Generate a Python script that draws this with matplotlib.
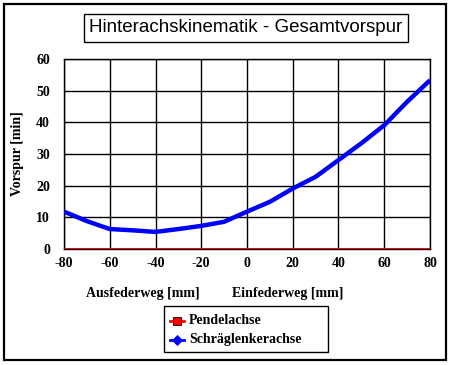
import matplotlib
matplotlib.use("Agg")
import matplotlib.pyplot as plt
from matplotlib.patches import Rectangle

# Data
weg = [-80, -70, -60, -50, -40, -30, -20, -10, 0, 10, 20, 30, 40, 50, 60, 70, 80]
pendelachse = [0, 0, 0, 0, 0, 0, 0, 0, 0, 0, 0, 0, 0, 0, 0, 0, 0]
schraeglenker = [11.8, 8.8, 6.3, 5.9, 5.4, 6.3, 7.3, 8.6, 11.8, 14.9, 19.1, 22.8, 28.1, 33.4, 39.1, 46.5, 53.3]
x_ticks = [-80, -60, -40, -20, 0, 20, 40, 60, 80]
y_ticks = [0, 10, 20, 30, 40, 50, 60]

W, H = 452, 365
fig = plt.figure(figsize=(W / 100, H / 100), dpi=100)
fig.patch.set_facecolor("white")

# plot area in pixels: left 64, right 430, top 59, bottom 249
ax = fig.add_axes([64 / W, 1 - 249 / H, (430 - 64) / W, (249 - 59) / H])

serif = dict(family="Liberation Serif", weight="bold", size=10)

ax.plot(weg, pendelachse, color="#ff0000", lw=2.2, zorder=3, solid_capstyle="butt")
ax.plot(weg, schraeglenker, color="#0000ff", lw=3.2, zorder=4, solid_capstyle="butt")

ax.set_xlim(-80, 80)
ax.set_ylim(0, 60)
ax.set_xticks(x_ticks)
ax.set_yticks(y_ticks)
ax.set_xticklabels([str(v) for v in x_ticks], fontdict=serif)
ax.set_yticklabels([str(v) for v in y_ticks], fontdict=serif)
ax.tick_params(length=0)
ax.tick_params(axis="y", pad=10)
ax.tick_params(axis="x", pad=6)
ax.grid(True, color="black", lw=1)
for s in ax.spines.values():
    s.set_color("black")
    s.set_linewidth(1)

# axis labels
fig.text(18 / W, 1 - 154 / H, "Vorspur [min]", rotation=90, ha="center", va="center", fontdict=serif)
fig.text(143 / W, 1 - 293 / H, "Ausfederweg [mm]", ha="center", va="center", fontdict=serif)
fig.text(288 / W, 1 - 293 / H, "Einfederweg [mm]", ha="center", va="center", fontdict=serif)

# title box
fig.text(246 / W, 1 - 28 / H, "Hinterachskinematik - Gesamtvorspur", ha="center", va="center",
         family="Liberation Sans", size=13.5,
         bbox=dict(boxstyle="square,pad=0.3", fc="white", ec="black", lw=1))

# legend
lx0, ly0, lx1, ly1 = 164, 306, 328, 352
fig.patches.append(Rectangle((lx0 / W, 1 - ly1 / H), (lx1 - lx0) / W, (ly1 - ly0) / H,
                             transform=fig.transFigure, fc="white", ec="black", lw=1))
entries = [("Pendelachse", "#ff0000", "s", 321), ("Schräglenkerachse", "#0000ff", "D", 340)]
for name, col, mk, yy in entries:
    fig.add_artist(plt.Line2D([170 / W, 184 / W], [1 - yy / H] * 2, color=col, lw=2,
                              transform=fig.transFigure))
    fig.add_artist(plt.Line2D([177 / W], [1 - yy / H], color=col, lw=0,
                              marker=mk, markersize=6 if mk == "s" else 5,
                              markeredgecolor="black" if mk == "s" else col,
                              markeredgewidth=0.6, transform=fig.transFigure))
    fig.text(189 / W, 1 - yy / H, name, ha="left", va="center", fontdict=serif)

# outer frame
fig.patches.append(Rectangle((4 / W, 1 - 360 / H), (446 - 4) / W, (360 - 4) / H,
                             transform=fig.transFigure, fill=False, ec="black", lw=1.6))

fig.savefig("out.png", dpi=100)
